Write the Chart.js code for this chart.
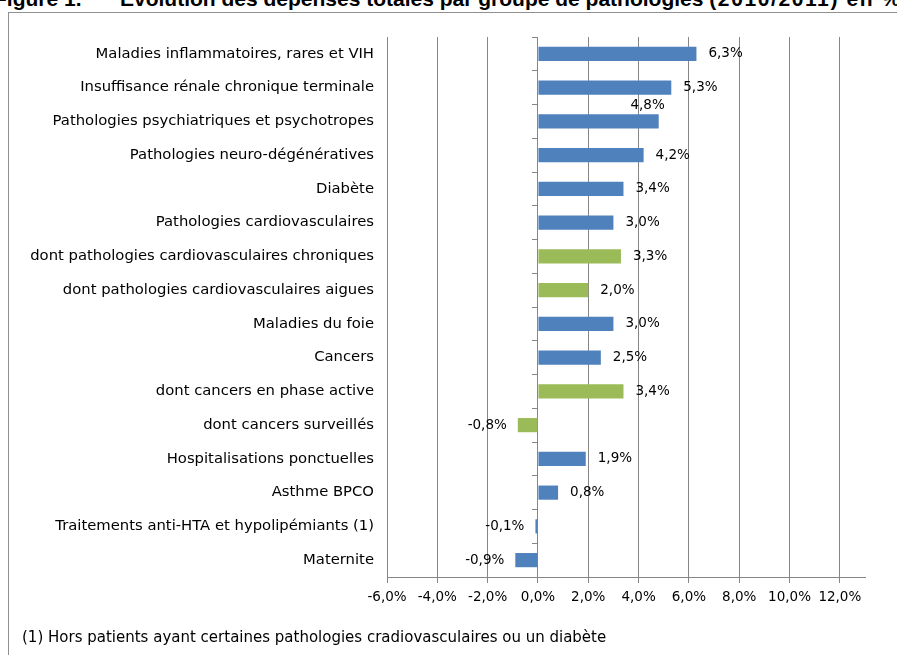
<!DOCTYPE html>
<html>
<head>
<meta charset="utf-8">
<script src="https://cdn.jsdelivr.net/npm/chart.js@4.4.0/dist/chart.umd.min.js"></script>
<style>
  html, body { margin: 0; padding: 0; background: #fff; overflow: hidden; }
  body { width: 897px; height: 655px; position: relative; }
  .title { position: absolute; top: -12px; white-space: nowrap;
           font: bold 21px "Liberation Sans", Arial, sans-serif; line-height: 21px; color: #000; }
  .wide { letter-spacing: 1.6px; }
  #frame { position: absolute; left: 8px; top: 12px; width: 1000px; height: 800px;
           border: 1px solid #909090; box-sizing: border-box; }
  #wrap { position: absolute; left: 0; top: 0; width: 897px; height: 655px; }
  #note { position: absolute; left: 22px; top: 628px; white-space: nowrap;
          font: 15px "DejaVu Sans", sans-serif; color: #000; }
</style>
</head>
<body>
<div class="title" style="left:-6px">Figure 1.</div>
<div class="title" style="left:120px">Evolution des dépenses totales par groupe de pathologies <span class="wide">(2010/2011) en %</span></div>
<div id="frame"></div>
<div id="wrap"><canvas id="chart" width="897" height="655"></canvas></div>
<div id="note">(1) Hors patients ayant certaines pathologies cradiovasculaires ou un diabète</div>
<script>
// catégories (de haut en bas)
const categories = [
    'Maladies inflammatoires, rares et VIH',
    'Insuffisance rénale chronique terminale',
    'Pathologies psychiatriques et psychotropes',
    'Pathologies neuro-dégénératives',
    'Diabète',
    'Pathologies cardiovasculaires',
    'dont pathologies cardiovasculaires chroniques',
    'dont pathologies cardiovasculaires aigues',
    'Maladies du foie',
    'Cancers',
    'dont cancers en phase active',
    'dont cancers surveillés',
    'Hospitalisations ponctuelles',
    'Asthme BPCO',
    'Traitements anti-HTA et hypolipémiants (1)',
    'Maternite'
];
// évolution 2010/2011 en %
const evolution = [6.3, 5.3, 4.8, 4.2, 3.4, 3.0, 3.3, 2.0, 3.0, 2.5, 3.4, -0.8, 1.9, 0.8, -0.1, -0.9];
// graduations de l'axe x
const xTicks = [-6, -4, -2, 0, 2, 4, 6, 8, 10, 12];

const BLUE = '#4f81bd';
const GREEN = '#9bbb59';
const GRID = '#868686';
const FONT = '"DejaVu Sans", sans-serif';

const fmt = v => v.toFixed(1).replace('.', ',') + '%';

// étiquettes de valeur (position "extérieur" façon Excel)
const valueLabels = {
    id: 'valueLabels',
    afterDatasetsDraw(chart) {
        const ctx = chart.ctx;
        const meta = chart.getDatasetMeta(0);
        ctx.save();
        ctx.font = '13.5px ' + FONT;
        ctx.fillStyle = '#000';
        ctx.textBaseline = 'middle';
        meta.data.forEach((bar, i) => {
            const v = evolution[i];
            const x = bar.x, y = bar.y;
            if (i === 2) { // 4,8% remonté au-dessus de la barre
                ctx.textAlign = 'right';
                ctx.fillText(fmt(v), x + 6, y - 16);
                return;
            }
            if (v >= 0) {
                ctx.textAlign = 'left';
                ctx.fillText(fmt(v), x + 12, y);
            } else {
                ctx.textAlign = 'right';
                ctx.fillText(fmt(v), x - 11, y);
            }
        });
        ctx.restore();
    }
};

new Chart(document.getElementById('chart').getContext('2d'), {
    type: 'bar',
    data: {
        labels: categories,
        datasets: [{
            data: evolution,
            backgroundColor: categories.map(c => c.startsWith('dont') ? GREEN : BLUE),
            barPercentage: 0.42,
            categoryPercentage: 1
        }]
    },
    options: {
        indexAxis: 'y',
        responsive: false,
        animation: false,
        layout: { padding: { top: 37, right: 32, bottom: 0, left: 0 } },
        plugins: { legend: { display: false }, tooltip: { enabled: false } },
        scales: {
            x: {
                min: -6,
                max: 13,
                afterBuildTicks: s => { s.ticks = xTicks.map(v => ({ value: v })); },
                afterFit: s => { s.height = 78; },
                grid: { color: GRID, tickLength: 6 },
                border: { color: GRID },
                ticks: {
                    padding: 6,
                    color: '#000',
                    font: { family: FONT, size: 13.5 },
                    callback: v => v.toFixed(1).replace('.', ',') + '%'
                }
            },
            y: {
                afterFit: s => { s.width = 387; },
                grid: { display: false, drawTicks: false },
                border: { display: false },
                ticks: { padding: 13, color: '#000', font: { family: FONT, size: 14.8 } }
            },
            y0: {
                type: 'category',
                position: { x: 0 },
                offset: true,
                grid: { offset: true, drawOnChartArea: false, tickLength: 5, color: GRID },
                border: { color: GRID },
                ticks: { display: false }
            }
        }
    },
    plugins: [valueLabels]
});
</script>
</body>
</html>
